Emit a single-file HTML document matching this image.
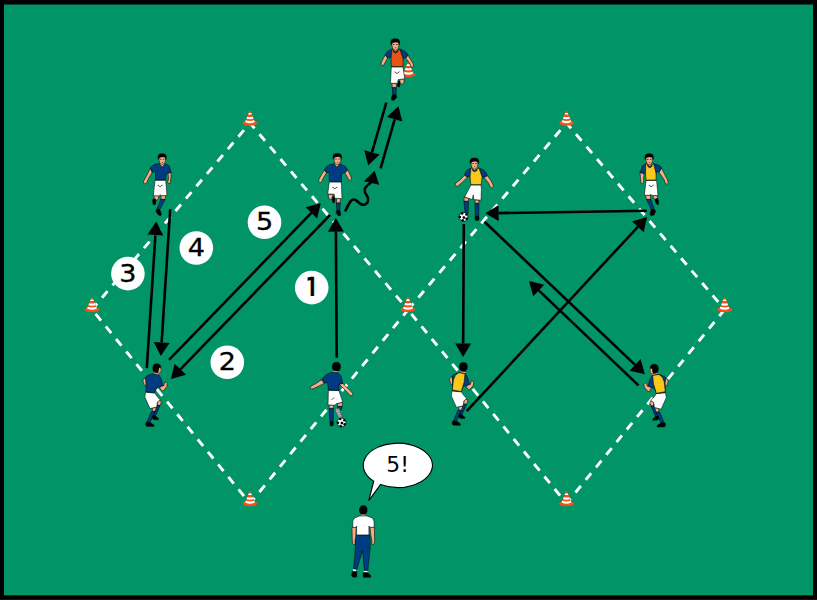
<!DOCTYPE html>
<html><head><meta charset="utf-8"><title>Drill</title>
<style>html,body{margin:0;padding:0;background:#000;overflow:hidden}svg{display:block}text{font-family:"DejaVu Sans","Liberation Sans",sans-serif}</style></head><body>
<svg width="817" height="600" viewBox="0 0 817 600">
<rect width="817" height="600" fill="#000"/>
<rect x="4" y="4.5" width="809" height="590.8" fill="#009467"/>
<rect x="0" y="599" width="817" height="1" fill="#141414"/>
<g stroke="#fff" stroke-width="2.9" fill="none">
<line x1="250" y1="123" x2="92" y2="309.5" stroke-dasharray="8.6 7.63" stroke-dashoffset="-9.40"/>
<line x1="92" y1="309.5" x2="250" y2="503.5" stroke-dasharray="8.6 7.57" stroke-dashoffset="-5.70"/>
<line x1="250" y1="503.5" x2="408" y2="309.8" stroke-dasharray="8.6 7.66" stroke-dashoffset="1.40"/>
<line x1="250" y1="123" x2="408" y2="309.8" stroke-dasharray="8.6 7.66" stroke-dashoffset="1.60"/>
<line x1="566.5" y1="123" x2="408" y2="309.8" stroke-dasharray="8.6 7.63" stroke-dashoffset="-9.40"/>
<line x1="408" y1="309.8" x2="566.5" y2="503.5" stroke-dasharray="8.6 7.57" stroke-dashoffset="-5.20"/>
<line x1="566.5" y1="503.5" x2="724.6" y2="309.5" stroke-dasharray="8.6 7.66" stroke-dashoffset="2.10"/>
<line x1="566.5" y1="123" x2="724.6" y2="309.5" stroke-dasharray="8.6 7.66" stroke-dashoffset="1.60"/>
</g>
<g id="arrows">
<line x1="336.70" y1="357.70" x2="335.88" y2="231.60" stroke="#000" stroke-width="2.6"/><polygon points="335.80,218.10 343.83,231.55 327.93,231.65" fill="#000"/>
<line x1="330.00" y1="215.00" x2="180.32" y2="369.30" stroke="#000" stroke-width="2.6"/><polygon points="170.92,378.99 174.62,363.76 186.03,374.83" fill="#000"/>
<line x1="146.80" y1="368.20" x2="155.41" y2="235.07" stroke="#000" stroke-width="2.6"/><polygon points="156.28,221.60 163.34,235.59 147.47,234.56" fill="#000"/>
<line x1="170.20" y1="209.25" x2="161.64" y2="342.43" stroke="#000" stroke-width="2.6"/><polygon points="160.77,355.90 153.71,341.92 169.57,342.94" fill="#000"/>
<line x1="169.00" y1="359.80" x2="311.38" y2="212.91" stroke="#000" stroke-width="2.6"/><polygon points="320.78,203.21 317.09,218.44 305.67,207.37" fill="#000"/>
<line x1="386.30" y1="102.70" x2="371.94" y2="152.41" stroke="#000" stroke-width="2.6"/><polygon points="368.19,165.38 364.30,150.21 379.57,154.62" fill="#000"/>
<line x1="380.60" y1="168.30" x2="394.68" y2="119.29" stroke="#000" stroke-width="2.6"/><polygon points="398.41,106.32 402.32,121.49 387.04,117.10" fill="#000"/>
<path d="M345.5,210.5 C347,208 349,203 351,201 C353,198.7 355,199 357.5,201.5 C360,204 363,206 366,204 C369,202 368.5,198 366.5,195 C364,191.5 364,189 366,187 C367.5,185 369,184 370.5,183" fill="none" stroke="#000" stroke-width="2.6" stroke-linecap="round"/>
<polygon points="374.6,170.8 363.9,181.3 379.2,184.8" fill="#000"/>
<line x1="646.80" y1="210.70" x2="498.60" y2="213.09" stroke="#000" stroke-width="2.6"/><polygon points="485.10,213.31 498.47,205.14 498.73,221.04" fill="#000"/>
<line x1="463.80" y1="224.00" x2="463.17" y2="343.50" stroke="#000" stroke-width="2.6"/><polygon points="463.10,357.00 455.22,343.46 471.12,343.54" fill="#000"/>
<line x1="466.70" y1="411.20" x2="637.89" y2="226.80" stroke="#000" stroke-width="2.6"/><polygon points="647.07,216.91 643.71,232.21 632.06,221.39" fill="#000"/>
<line x1="484.50" y1="221.80" x2="635.10" y2="364.88" stroke="#000" stroke-width="2.6"/><polygon points="644.89,374.18 629.63,370.64 640.58,359.11" fill="#000"/>
<line x1="638.50" y1="385.40" x2="538.74" y2="290.38" stroke="#000" stroke-width="2.6"/><polygon points="528.96,281.07 544.22,284.63 533.25,296.14" fill="#000"/>
</g>
<g transform="translate(250,123) scale(1.0)"><ellipse cx="0" cy="0.1" rx="7.4" ry="2.65" fill="#f4501a"/><path d="M-0.55,-12.3 L0.55,-12.3 L4.3,-2.4 L5.0,-0.9 Q0,1.8 -5.0,-0.9 L-4.3,-2.4 Z" fill="#f4501a"/><path d="M-4.2,-2.7 Q0,-1.2 4.2,-2.7 L4.9,-0.9 Q0,1.6 -4.9,-0.9 Z" fill="#fff"/><path d="M-2.75,-6.3 Q0,-5.7 2.75,-6.3 L3.5,-4.3 Q0,-3.4 -3.5,-4.3 Z" fill="#fff"/><path d="M-1.3,-10.1 L1.3,-10.1 L1.9,-8.6 Q0,-8.2 -1.9,-8.6 Z" fill="#fff"/></g>
<g transform="translate(92,309.5) scale(1.0)"><ellipse cx="0" cy="0.1" rx="7.4" ry="2.65" fill="#f4501a"/><path d="M-0.55,-12.3 L0.55,-12.3 L4.3,-2.4 L5.0,-0.9 Q0,1.8 -5.0,-0.9 L-4.3,-2.4 Z" fill="#f4501a"/><path d="M-4.2,-2.7 Q0,-1.2 4.2,-2.7 L4.9,-0.9 Q0,1.6 -4.9,-0.9 Z" fill="#fff"/><path d="M-2.75,-6.3 Q0,-5.7 2.75,-6.3 L3.5,-4.3 Q0,-3.4 -3.5,-4.3 Z" fill="#fff"/><path d="M-1.3,-10.1 L1.3,-10.1 L1.9,-8.6 Q0,-8.2 -1.9,-8.6 Z" fill="#fff"/></g>
<g transform="translate(250,503.5) scale(1.0)"><ellipse cx="0" cy="0.1" rx="7.4" ry="2.65" fill="#f4501a"/><path d="M-0.55,-12.3 L0.55,-12.3 L4.3,-2.4 L5.0,-0.9 Q0,1.8 -5.0,-0.9 L-4.3,-2.4 Z" fill="#f4501a"/><path d="M-4.2,-2.7 Q0,-1.2 4.2,-2.7 L4.9,-0.9 Q0,1.6 -4.9,-0.9 Z" fill="#fff"/><path d="M-2.75,-6.3 Q0,-5.7 2.75,-6.3 L3.5,-4.3 Q0,-3.4 -3.5,-4.3 Z" fill="#fff"/><path d="M-1.3,-10.1 L1.3,-10.1 L1.9,-8.6 Q0,-8.2 -1.9,-8.6 Z" fill="#fff"/></g>
<g transform="translate(408,309.4) scale(1.0)"><ellipse cx="0" cy="0.1" rx="7.4" ry="2.65" fill="#f4501a"/><path d="M-0.55,-12.3 L0.55,-12.3 L4.3,-2.4 L5.0,-0.9 Q0,1.8 -5.0,-0.9 L-4.3,-2.4 Z" fill="#f4501a"/><path d="M-4.2,-2.7 Q0,-1.2 4.2,-2.7 L4.9,-0.9 Q0,1.6 -4.9,-0.9 Z" fill="#fff"/><path d="M-2.75,-6.3 Q0,-5.7 2.75,-6.3 L3.5,-4.3 Q0,-3.4 -3.5,-4.3 Z" fill="#fff"/><path d="M-1.3,-10.1 L1.3,-10.1 L1.9,-8.6 Q0,-8.2 -1.9,-8.6 Z" fill="#fff"/></g>
<g transform="translate(566.5,123) scale(1.0)"><ellipse cx="0" cy="0.1" rx="7.4" ry="2.65" fill="#f4501a"/><path d="M-0.55,-12.3 L0.55,-12.3 L4.3,-2.4 L5.0,-0.9 Q0,1.8 -5.0,-0.9 L-4.3,-2.4 Z" fill="#f4501a"/><path d="M-4.2,-2.7 Q0,-1.2 4.2,-2.7 L4.9,-0.9 Q0,1.6 -4.9,-0.9 Z" fill="#fff"/><path d="M-2.75,-6.3 Q0,-5.7 2.75,-6.3 L3.5,-4.3 Q0,-3.4 -3.5,-4.3 Z" fill="#fff"/><path d="M-1.3,-10.1 L1.3,-10.1 L1.9,-8.6 Q0,-8.2 -1.9,-8.6 Z" fill="#fff"/></g>
<g transform="translate(724.6,309.5) scale(1.0)"><ellipse cx="0" cy="0.1" rx="7.4" ry="2.65" fill="#f4501a"/><path d="M-0.55,-12.3 L0.55,-12.3 L4.3,-2.4 L5.0,-0.9 Q0,1.8 -5.0,-0.9 L-4.3,-2.4 Z" fill="#f4501a"/><path d="M-4.2,-2.7 Q0,-1.2 4.2,-2.7 L4.9,-0.9 Q0,1.6 -4.9,-0.9 Z" fill="#fff"/><path d="M-2.75,-6.3 Q0,-5.7 2.75,-6.3 L3.5,-4.3 Q0,-3.4 -3.5,-4.3 Z" fill="#fff"/><path d="M-1.3,-10.1 L1.3,-10.1 L1.9,-8.6 Q0,-8.2 -1.9,-8.6 Z" fill="#fff"/></g>
<g transform="translate(566.5,503.5) scale(1.0)"><ellipse cx="0" cy="0.1" rx="7.4" ry="2.65" fill="#f4501a"/><path d="M-0.55,-12.3 L0.55,-12.3 L4.3,-2.4 L5.0,-0.9 Q0,1.8 -5.0,-0.9 L-4.3,-2.4 Z" fill="#f4501a"/><path d="M-4.2,-2.7 Q0,-1.2 4.2,-2.7 L4.9,-0.9 Q0,1.6 -4.9,-0.9 Z" fill="#fff"/><path d="M-2.75,-6.3 Q0,-5.7 2.75,-6.3 L3.5,-4.3 Q0,-3.4 -3.5,-4.3 Z" fill="#fff"/><path d="M-1.3,-10.1 L1.3,-10.1 L1.9,-8.6 Q0,-8.2 -1.9,-8.6 Z" fill="#fff"/></g>
<circle cx="311.7" cy="287.6" r="16.8" fill="#fff"/>
<clipPath id="c1"><rect x="307.60" y="271.6" width="20" height="24.40"/></clipPath>
<g clip-path="url(#c1)"><text x="302.45" y="299.10" font-size="29.5" fill="#000" stroke="#000" stroke-width="0.4">1</text></g>
<circle cx="227.3" cy="362.3" r="16.8" fill="#fff"/>
<text transform="translate(227.3,370.20) scale(1.06,1)" font-size="25.5" text-anchor="middle" fill="#000" stroke="#000" stroke-width="0.35">2</text>
<circle cx="127.9" cy="273.6" r="16.8" fill="#fff"/>
<text transform="translate(127.9,281.50) scale(1.06,1)" font-size="25.5" text-anchor="middle" fill="#000" stroke="#000" stroke-width="0.35">3</text>
<circle cx="196.3" cy="248" r="16.8" fill="#fff"/>
<text transform="translate(196.3,255.90) scale(1.06,1)" font-size="25.5" text-anchor="middle" fill="#000" stroke="#000" stroke-width="0.35">4</text>
<circle cx="264.5" cy="222.3" r="16.8" fill="#fff"/>
<text transform="translate(264.5,230.20) scale(1.06,1)" font-size="25.5" text-anchor="middle" fill="#000" stroke="#000" stroke-width="0.35">5</text>
<path d="M373.75,481.2 A34.6,22.1 0 1 1 380.6,484.5 L368.75,500.6 Z" fill="#fff" stroke="#000" stroke-width="1.1" stroke-linejoin="miter"/>
<text x="397.6" y="471.8" font-size="21.8" text-anchor="middle" fill="#000">5!</text>
<g transform="translate(408.3,74.4) scale(1.0)"><ellipse cx="0" cy="0.1" rx="7.4" ry="2.65" fill="#f4501a"/><path d="M-0.55,-12.3 L0.55,-12.3 L4.3,-2.4 L5.0,-0.9 Q0,1.8 -5.0,-0.9 L-4.3,-2.4 Z" fill="#f4501a"/><path d="M-4.2,-2.7 Q0,-1.2 4.2,-2.7 L4.9,-0.9 Q0,1.6 -4.9,-0.9 Z" fill="#fff"/><path d="M-2.75,-6.3 Q0,-5.7 2.75,-6.3 L3.5,-4.3 Q0,-3.4 -3.5,-4.3 Z" fill="#fff"/><path d="M-1.3,-10.1 L1.3,-10.1 L1.9,-8.6 Q0,-8.2 -1.9,-8.6 Z" fill="#fff"/></g>
<polygon points="154.30,195.60 158.70,195.60 158.50,199.00 156.00,200.50 154.00,199.50" fill="#f6ad86" stroke="#000" stroke-width="0.55" stroke-linejoin="round"/><polygon points="152.80,199.50 155.50,198.70 156.00,201.00 155.20,204.70 153.30,204.50 152.70,202.00" fill="#000" stroke="#000" stroke-width="0.55" stroke-linejoin="round"/><polygon points="161.30,195.60 165.70,195.60 165.00,199.50 160.80,199.30" fill="#f6ad86" stroke="#000" stroke-width="0.55" stroke-linejoin="round"/><polygon points="160.70,199.20 164.90,199.60 159.80,209.60 157.00,209.30" fill="#003c82" stroke="#000" stroke-width="0.55" stroke-linejoin="round"/><polygon points="156.60,209.00 159.80,209.50 161.30,214.00 160.80,215.70 158.50,215.00 156.00,211.50" fill="#000" stroke="#000" stroke-width="0.55" stroke-linejoin="round"/><polygon points="155.00,180.30 165.70,180.30 167.00,195.50 160.80,195.70 160.20,194.50 159.60,195.90 153.30,195.70" fill="#fff" stroke="#000" stroke-width="0.55" stroke-linejoin="round"/><path d="M157.60,185.10 L159.40,186.10 L160.00,186.90 L160.70,186.10 L162.50,185.00" fill="none" stroke="#222" stroke-width="0.8"/><polygon points="150.30,168.30 147.00,175.00 143.60,181.00 143.60,183.00 145.00,184.00 146.60,183.00 148.50,178.50 152.20,172.20" fill="#f6ad86" stroke="#000" stroke-width="0.55" stroke-linejoin="round"/><polygon points="168.00,173.00 171.20,172.70 170.80,179.00 170.30,183.30 168.50,183.60 167.60,182.00 168.60,179.00" fill="#f6ad86" stroke="#000" stroke-width="0.55" stroke-linejoin="round"/><polygon points="160.25,162.30 164.05,162.30 164.75,165.80 163.65,168.00 160.65,168.00 159.55,165.80" fill="#f6ad86"/><polygon points="159.15,157.40 159.15,160.40 159.85,162.60 161.25,164.10 162.35,164.40 163.45,164.10 164.75,162.60 165.45,160.40 165.55,157.40 162.35,156.20" fill="#f6ad86" stroke="#000" stroke-width="0.5" stroke-linejoin="round"/><polygon points="158.25,159.40 157.95,156.80 158.65,154.70 160.65,153.80 163.65,153.70 165.75,154.70 166.35,156.80 166.05,159.40 165.45,157.70 164.35,156.80 161.65,156.90 159.85,157.20 159.05,158.00" fill="#000" stroke="#000" stroke-width="0.4" stroke-linejoin="round"/><rect x="160.25" y="158.80" width="1.3" height="0.8" fill="#000"/><rect x="163.15" y="158.80" width="1.3" height="0.8" fill="#000"/><rect x="161.95" y="161.85" width="1.2" height="0.7" fill="#3a1a10"/><polygon points="159.50,163.40 154.60,164.60 151.80,166.00 150.50,167.50 152.00,172.20 155.50,171.60 155.50,179.90 165.70,179.90 166.20,173.30 171.20,172.40 169.20,166.30 168.00,164.90 165.10,163.70 162.00,167.20" fill="#003c82" stroke="#000" stroke-width="0.55" stroke-linejoin="round"/>
<polygon points="328.30,194.30 332.70,194.30 332.70,198.50 330.50,199.50 328.50,198.00" fill="#f6ad86" stroke="#000" stroke-width="0.55" stroke-linejoin="round"/><polygon points="332.30,197.00 334.50,196.70 335.00,200.00 334.30,202.70 332.80,202.50 332.30,200.00" fill="#000" stroke="#000" stroke-width="0.55" stroke-linejoin="round"/><polygon points="336.70,198.50 340.30,198.50 340.20,203.00 336.50,203.00" fill="#f6ad86" stroke="#000" stroke-width="0.55" stroke-linejoin="round"/><polygon points="336.50,203.00 340.20,203.00 339.80,210.70 336.80,210.70" fill="#003c82" stroke="#000" stroke-width="0.55" stroke-linejoin="round"/><polygon points="336.60,210.70 339.90,210.70 340.70,214.50 340.30,215.70 338.00,215.50 336.00,212.50" fill="#000" stroke="#000" stroke-width="0.55" stroke-linejoin="round"/><polygon points="329.30,182.00 341.30,182.00 342.00,198.70 334.70,198.20 334.30,194.20 327.70,194.00" fill="#fff" stroke="#000" stroke-width="0.55" stroke-linejoin="round"/><path d="M332.40,187.10 L334.20,188.10 L334.80,188.90 L335.50,188.10 L337.30,187.00" fill="none" stroke="#222" stroke-width="0.8"/><polygon points="324.40,170.00 321.00,175.50 318.90,179.50 318.80,181.80 320.00,182.80 321.50,182.00 323.50,177.50 326.60,172.80" fill="#f6ad86" stroke="#000" stroke-width="0.55" stroke-linejoin="round"/><polygon points="347.40,169.90 349.50,173.50 351.20,177.50 351.20,179.50 350.00,180.40 348.50,179.80 347.50,177.00 344.80,173.00" fill="#f6ad86" stroke="#000" stroke-width="0.55" stroke-linejoin="round"/><polygon points="335.33,162.32 339.27,162.32 340.00,165.96 338.86,168.24 335.74,168.24 334.60,165.96" fill="#f6ad86"/><polygon points="334.19,157.24 334.19,160.35 334.91,162.64 336.37,164.19 337.51,164.50 338.65,164.19 340.00,162.64 340.73,160.35 340.83,157.24 337.51,155.99" fill="#f6ad86" stroke="#000" stroke-width="0.5" stroke-linejoin="round"/><polygon points="333.25,159.31 332.94,156.61 333.67,154.43 335.74,153.50 338.86,153.40 341.04,154.43 341.66,156.61 341.35,159.31 340.73,157.55 339.58,156.61 336.78,156.72 334.91,157.03 334.08,157.86" fill="#000" stroke="#000" stroke-width="0.4" stroke-linejoin="round"/><rect x="335.35" y="158.71" width="1.3" height="0.8" fill="#000"/><rect x="338.36" y="158.71" width="1.3" height="0.8" fill="#000"/><rect x="337.12" y="161.87" width="1.2" height="0.7" fill="#3a1a10"/><polygon points="334.20,163.70 329.00,164.90 326.00,167.20 324.30,169.80 326.40,172.70 329.30,172.40 329.30,181.60 341.50,181.90 341.50,173.30 344.70,173.00 347.40,169.80 346.00,167.30 343.60,165.50 339.80,163.70 336.90,167.20" fill="#003c82" stroke="#000" stroke-width="0.55" stroke-linejoin="round"/>
<polygon points="392.00,83.30 396.30,83.30 396.30,87.70 392.20,87.70" fill="#f6ad86" stroke="#000" stroke-width="0.55" stroke-linejoin="round"/><polygon points="392.20,87.70 396.30,87.70 396.00,95.00 392.80,95.00" fill="#003c82" stroke="#000" stroke-width="0.55" stroke-linejoin="round"/><polygon points="392.50,95.00 396.20,95.00 396.70,97.50 394.00,100.30 391.50,100.00 391.30,98.00" fill="#000" stroke="#000" stroke-width="0.55" stroke-linejoin="round"/><polygon points="399.70,79.40 404.00,78.80 404.00,83.00 402.00,84.20 400.00,83.50" fill="#f6ad86" stroke="#000" stroke-width="0.55" stroke-linejoin="round"/><polygon points="397.50,81.50 399.80,81.30 400.00,84.00 399.30,87.00 397.60,86.50 397.30,83.50" fill="#000" stroke="#000" stroke-width="0.55" stroke-linejoin="round"/><polygon points="391.30,67.00 403.00,67.00 404.70,78.70 398.00,79.70 397.70,83.30 390.50,83.30" fill="#fff" stroke="#000" stroke-width="0.55" stroke-linejoin="round"/><path d="M394.60,71.80 L396.40,72.80 L397.00,73.60 L397.70,72.80 L399.50,71.70" fill="none" stroke="#222" stroke-width="0.8"/><polygon points="385.20,55.00 382.50,60.00 381.10,63.00 381.20,64.80 382.50,65.50 384.00,64.80 385.50,61.50 387.70,58.00" fill="#f6ad86" stroke="#000" stroke-width="0.55" stroke-linejoin="round"/><polygon points="408.00,55.20 410.50,59.50 413.00,63.50 413.60,66.00 412.80,67.40 411.30,67.00 409.50,63.00 405.70,58.00" fill="#f6ad86" stroke="#000" stroke-width="0.55" stroke-linejoin="round"/><polygon points="393.21,47.95 397.29,47.95 398.05,51.71 396.86,54.08 393.64,54.08 392.45,51.71" fill="#f6ad86"/><polygon points="392.02,42.67 392.02,45.90 392.77,48.27 394.28,49.88 395.47,50.21 396.65,49.88 398.05,48.27 398.80,45.90 398.91,42.67 395.47,41.38" fill="#f6ad86" stroke="#000" stroke-width="0.5" stroke-linejoin="round"/><polygon points="391.05,44.83 390.73,42.03 391.48,39.77 393.64,38.80 396.86,38.69 399.12,39.77 399.77,42.03 399.45,44.83 398.80,43.00 397.62,42.03 394.71,42.14 392.77,42.46 391.91,43.32" fill="#000" stroke="#000" stroke-width="0.4" stroke-linejoin="round"/><rect x="393.25" y="44.21" width="1.3" height="0.8" fill="#000"/><rect x="396.37" y="44.21" width="1.3" height="0.8" fill="#000"/><rect x="395.08" y="47.49" width="1.2" height="0.7" fill="#3a1a10"/><polygon points="392.30,49.10 388.40,50.80 386.30,52.60 385.20,54.80 387.60,58.00 391.50,57.20 391.50,60.00 403.00,60.00 403.00,57.50 405.60,58.00 408.00,55.10 406.50,52.80 404.20,50.80 399.60,48.90 395.40,51.80" fill="#003c82" stroke="#000" stroke-width="0.55" stroke-linejoin="round"/><polygon points="391.90,49.00 391.00,58.40 391.30,66.60 403.00,66.60 403.00,58.40 399.80,49.00 398.40,49.60 397.50,52.00 395.40,53.00 393.60,52.00 393.20,49.60" fill="#e95414" stroke="#000" stroke-width="0.55" stroke-linejoin="round"/>
<polygon points="464.20,197.00 468.60,198.50 468.40,201.30 464.00,201.30" fill="#f6ad86" stroke="#000" stroke-width="0.55" stroke-linejoin="round"/><polygon points="463.90,201.30 468.40,201.30 468.10,213.50 465.20,213.50" fill="#003c82" stroke="#000" stroke-width="0.55" stroke-linejoin="round"/><polygon points="475.10,199.80 478.90,200.00 478.90,203.30 475.00,203.30" fill="#f6ad86" stroke="#000" stroke-width="0.55" stroke-linejoin="round"/><polygon points="475.00,203.30 478.90,203.30 478.70,216.30 475.30,216.30" fill="#003c82" stroke="#000" stroke-width="0.55" stroke-linejoin="round"/><polygon points="475.20,216.30 478.80,216.30 479.00,219.50 478.00,220.50 475.80,220.50 475.00,219.00" fill="#000" stroke="#000" stroke-width="0.55" stroke-linejoin="round"/><polygon points="470.90,185.10 481.00,185.10 481.40,189.00 481.00,200.20 473.70,199.60 473.30,194.80 472.30,199.50 464.60,197.00" fill="#fff" stroke="#000" stroke-width="0.55" stroke-linejoin="round"/><polygon points="464.60,175.20 460.00,180.00 455.80,183.00 455.20,184.80 456.20,186.20 458.00,186.00 462.00,182.50 467.50,177.00" fill="#f6ad86" stroke="#000" stroke-width="0.55" stroke-linejoin="round"/><polygon points="487.30,175.60 490.50,180.00 493.00,184.50 493.30,187.00 492.00,188.00 490.50,187.30 488.50,183.00 484.00,177.50" fill="#f6ad86" stroke="#000" stroke-width="0.55" stroke-linejoin="round"/><polygon points="472.36,166.90 476.34,166.90 477.07,170.57 475.92,172.88 472.78,172.88 471.63,170.57" fill="#f6ad86"/><polygon points="471.21,161.77 471.21,164.91 471.94,167.22 473.41,168.79 474.56,169.10 475.71,168.79 477.07,167.22 477.81,164.91 477.91,161.77 474.56,160.51" fill="#f6ad86" stroke="#000" stroke-width="0.5" stroke-linejoin="round"/><polygon points="470.26,163.87 469.95,161.14 470.68,158.94 472.78,158.00 475.92,157.90 478.12,158.94 478.75,161.14 478.44,163.87 477.81,162.09 476.65,161.14 473.83,161.25 471.94,161.56 471.10,162.40" fill="#000" stroke="#000" stroke-width="0.4" stroke-linejoin="round"/><rect x="472.39" y="163.26" width="1.3" height="0.8" fill="#000"/><rect x="475.43" y="163.26" width="1.3" height="0.8" fill="#000"/><rect x="474.17" y="166.45" width="1.2" height="0.7" fill="#3a1a10"/><polygon points="471.30,168.00 467.20,169.90 465.50,172.20 464.60,175.20 467.50,176.90 470.30,176.00 470.30,179.00 482.00,179.00 482.00,176.50 483.80,177.50 487.30,175.50 486.20,172.80 483.50,169.90 478.70,167.90 474.50,170.60" fill="#003c82" stroke="#000" stroke-width="0.55" stroke-linejoin="round"/><polygon points="471.00,167.90 470.10,176.40 470.70,184.60 481.20,184.60 482.10,176.90 478.90,167.90 477.50,168.40 476.70,170.80 474.50,171.80 472.70,170.80 472.30,168.40" fill="#fac81a" stroke="#000" stroke-width="0.55" stroke-linejoin="round"/><circle cx="463.55" cy="216.85" r="4.45" fill="#fff" stroke="#000" stroke-width="0.8"/><polygon points="463.90,215.90 465.37,216.97 464.81,218.70 462.99,218.70 462.43,216.97" fill="#000"/><circle cx="466.32" cy="214.55" r="1.25" fill="#000"/><circle cx="466.59" cy="218.77" r="1.25" fill="#000"/><circle cx="462.66" cy="220.34" r="1.25" fill="#000"/><circle cx="459.96" cy="217.08" r="1.25" fill="#000"/><circle cx="462.22" cy="213.50" r="1.25" fill="#000"/>
<polygon points="653.10,195.40 657.30,195.40 657.50,198.50 655.50,199.60 653.50,198.50" fill="#f6ad86" stroke="#000" stroke-width="0.55" stroke-linejoin="round"/><polygon points="655.50,198.90 657.60,198.50 658.70,201.50 658.50,204.60 656.80,204.30 655.30,201.50" fill="#000" stroke="#000" stroke-width="0.55" stroke-linejoin="round"/><polygon points="645.40,195.20 650.30,195.20 650.60,199.40 646.50,199.40" fill="#f6ad86" stroke="#000" stroke-width="0.55" stroke-linejoin="round"/><polygon points="646.60,199.40 650.80,199.40 654.30,209.50 651.50,210.00" fill="#003c82" stroke="#000" stroke-width="0.55" stroke-linejoin="round"/><polygon points="651.20,209.50 654.30,209.00 655.50,211.50 654.00,215.00 651.00,215.80 649.90,214.50" fill="#000" stroke="#000" stroke-width="0.55" stroke-linejoin="round"/><polygon points="646.10,180.50 656.60,180.50 658.00,195.60 651.30,195.40 650.80,194.20 650.30,195.30 644.30,195.20" fill="#fff" stroke="#000" stroke-width="0.55" stroke-linejoin="round"/><path d="M648.80,185.10 L650.60,186.10 L651.20,186.90 L651.90,186.10 L653.70,185.00" fill="none" stroke="#222" stroke-width="0.8"/><polygon points="640.00,172.50 640.40,177.00 640.80,181.00 641.00,183.00 642.30,183.70 643.60,183.00 643.50,179.50 644.00,173.50" fill="#f6ad86" stroke="#000" stroke-width="0.55" stroke-linejoin="round"/><polygon points="661.50,168.30 664.50,174.00 667.50,180.00 668.30,183.00 667.30,184.20 665.50,183.60 664.00,179.50 659.00,172.20" fill="#f6ad86" stroke="#000" stroke-width="0.55" stroke-linejoin="round"/><polygon points="647.18,162.62 651.12,162.62 651.85,166.26 650.71,168.54 647.59,168.54 646.45,166.26" fill="#f6ad86"/><polygon points="646.04,157.54 646.04,160.65 646.76,162.94 648.22,164.49 649.36,164.80 650.50,164.49 651.85,162.94 652.58,160.65 652.68,157.54 649.36,156.29" fill="#f6ad86" stroke="#000" stroke-width="0.5" stroke-linejoin="round"/><polygon points="645.10,159.61 644.79,156.91 645.52,154.73 647.59,153.80 650.71,153.70 652.89,154.73 653.51,156.91 653.20,159.61 652.58,157.85 651.43,156.91 648.63,157.02 646.76,157.33 645.93,158.16" fill="#000" stroke="#000" stroke-width="0.4" stroke-linejoin="round"/><rect x="647.20" y="159.01" width="1.3" height="0.8" fill="#000"/><rect x="650.21" y="159.01" width="1.3" height="0.8" fill="#000"/><rect x="648.97" y="162.17" width="1.2" height="0.7" fill="#3a1a10"/><polygon points="646.00,163.80 642.50,165.80 639.90,172.50 644.00,173.40 645.60,172.50 645.60,175.00 656.00,175.00 656.00,171.50 658.90,172.20 661.50,168.10 660.30,166.30 658.00,164.90 653.40,163.60 649.80,166.50" fill="#003c82" stroke="#000" stroke-width="0.55" stroke-linejoin="round"/><polygon points="645.80,163.70 645.50,173.40 646.00,180.10 656.00,179.90 656.00,173.40 653.60,163.70 652.30,164.20 651.60,166.80 649.80,167.80 648.00,166.80 647.20,164.20" fill="#fac81a" stroke="#000" stroke-width="0.55" stroke-linejoin="round"/>
<polygon points="152.10,408.20 156.70,407.00 156.70,411.50 152.80,411.80" fill="#f6ad86" stroke="#000" stroke-width="0.55" stroke-linejoin="round"/><polygon points="151.50,411.50 155.30,411.50 150.00,422.50 146.90,422.20" fill="#003c82" stroke="#000" stroke-width="0.55" stroke-linejoin="round"/><polygon points="146.50,422.00 150.20,422.50 153.90,425.00 153.70,426.50 146.50,426.30 145.50,424.00" fill="#000" stroke="#000" stroke-width="0.55" stroke-linejoin="round"/><polygon points="157.40,401.30 160.50,400.30 161.20,402.50 160.00,405.50 157.40,405.50" fill="#f6ad86" stroke="#000" stroke-width="0.55" stroke-linejoin="round"/><polygon points="157.20,405.30 160.00,405.50 155.30,416.20 153.20,415.80" fill="#003c82" stroke="#000" stroke-width="0.55" stroke-linejoin="round"/><polygon points="153.00,415.50 155.50,416.00 158.40,418.50 158.20,419.80 153.50,419.50 152.10,417.50" fill="#000" stroke="#000" stroke-width="0.55" stroke-linejoin="round"/><polygon points="145.50,392.20 155.30,393.20 156.00,395.00 160.20,399.90 157.40,402.00 156.70,406.90 150.00,408.60 144.80,397.10" fill="#fff" stroke="#000" stroke-width="0.55" stroke-linejoin="round"/><polygon points="145.80,377.50 142.90,379.80 143.30,382.50 144.50,385.50 145.80,386.30 146.30,383.30" fill="#f6ad86" stroke="#000" stroke-width="0.55" stroke-linejoin="round"/><polygon points="154.50,372.00 158.80,373.30 158.50,375.40 153.50,374.20" fill="#f6ad86"/><polygon points="153.10,373.70 149.30,374.80 146.60,376.10 145.60,377.60 146.10,383.30 145.80,391.80 154.60,392.70 156.90,387.40 159.50,387.10 163.00,385.70 161.20,379.00 158.90,374.90" fill="#003c82" stroke="#000" stroke-width="0.55" stroke-linejoin="round"/><polygon points="159.60,387.20 161.20,390.20 162.60,391.00 164.50,389.50 166.80,386.50 167.20,383.50 166.00,382.20 164.40,382.80 164.00,385.50 163.00,385.80" fill="#f6ad86" stroke="#000" stroke-width="0.55" stroke-linejoin="round"/><polygon points="158.20,367.30 160.70,368.00 161.00,370.20 160.60,371.80 159.80,373.10 157.50,372.90" fill="#f6ad86" stroke="#000" stroke-width="0.4" stroke-linejoin="round"/><polygon points="152.60,368.00 153.40,365.00 155.50,363.80 158.30,363.80 160.30,365.00 160.90,367.60 158.80,367.60 158.60,370.50 157.80,372.70 155.00,372.60 153.20,371.00" fill="#000" stroke="#000" stroke-width="0.4" stroke-linejoin="round"/>
<polygon points="329.10,405.00 333.70,405.00 333.50,408.40 329.10,408.40" fill="#f6ad86" stroke="#000" stroke-width="0.55" stroke-linejoin="round"/><polygon points="329.10,408.40 333.40,408.40 333.20,422.00 330.00,422.00" fill="#003c82" stroke="#000" stroke-width="0.55" stroke-linejoin="round"/><polygon points="330.10,422.00 333.20,422.00 333.40,425.00 332.50,426.00 330.50,425.90 330.00,424.50" fill="#000" stroke="#000" stroke-width="0.55" stroke-linejoin="round"/><polygon points="337.50,403.40 342.40,402.30 342.30,406.50 337.70,406.60" fill="#f6ad86" stroke="#000" stroke-width="0.55" stroke-linejoin="round"/><polygon points="337.50,406.40 342.10,406.20 341.50,409.60 337.50,410.00" fill="#003c82" stroke="#000" stroke-width="0.55" stroke-linejoin="round"/><polygon points="335.60,408.60 339.10,408.30 342.40,417.30 341.30,418.70 339.00,418.20 335.60,411.20" fill="#b5b5b5" stroke="#444" stroke-width="0.6" stroke-linejoin="round"/><path d="M336.6,410.3 L338.9,409.8 M337.5,412.6 L340,412 M338.6,415 L341,414.3 M339.6,417 L341.8,416.3" stroke="#555" stroke-width="0.6" fill="none"/><polygon points="328.40,390.50 338.90,390.50 342.80,402.10 336.10,403.80 335.10,405.20 328.00,404.90" fill="#fff" stroke="#000" stroke-width="0.55" stroke-linejoin="round"/><path d="M331.5,399.5 L333.5,398.6 L334.6,397.4" fill="none" stroke="#333" stroke-width="0.7"/><polygon points="321.70,379.70 316.00,383.50 310.80,386.30 310.20,387.80 311.30,389.00 313.50,388.60 319.00,386.00 324.40,383.20" fill="#f6ad86" stroke="#000" stroke-width="0.55" stroke-linejoin="round"/><polygon points="342.80,383.40 347.00,387.50 351.50,392.00 353.00,394.00 352.60,395.50 350.50,395.70 348.50,393.50 344.00,389.00 339.20,384.20" fill="#f6ad86" stroke="#000" stroke-width="0.55" stroke-linejoin="round"/><polygon points="333.50,370.30 337.40,370.30 337.60,373.00 333.00,373.00" fill="#f6ad86"/><polygon points="333.00,372.20 328.90,373.20 325.10,375.70 321.60,379.50 324.50,383.30 327.60,382.40 328.30,389.80 339.00,390.40 339.00,384.00 342.80,383.30 340.90,375.70 337.40,372.60" fill="#003c82" stroke="#000" stroke-width="0.55" stroke-linejoin="round"/><polygon points="332.30,368.50 332.20,365.50 333.50,363.00 336.00,362.10 338.80,362.60 340.40,364.80 340.50,368.00 339.30,370.50 336.50,371.00 333.60,370.60" fill="#000" stroke="#000" stroke-width="0.4" stroke-linejoin="round"/><circle cx="341.55" cy="422.45" r="4.45" fill="#fff" stroke="#000" stroke-width="0.8"/><polygon points="341.90,421.50 343.37,422.57 342.81,424.30 340.99,424.30 340.43,422.57" fill="#000"/><circle cx="344.32" cy="420.15" r="1.25" fill="#000"/><circle cx="344.59" cy="424.37" r="1.25" fill="#000"/><circle cx="340.66" cy="425.94" r="1.25" fill="#000"/><circle cx="337.96" cy="422.68" r="1.25" fill="#000"/><circle cx="340.22" cy="419.10" r="1.25" fill="#000"/>
<polygon points="458.60,407.00 463.20,405.80 463.20,410.30 459.30,410.60" fill="#f6ad86" stroke="#000" stroke-width="0.55" stroke-linejoin="round"/><polygon points="458.00,410.30 461.80,410.30 456.50,421.30 453.40,421.00" fill="#003c82" stroke="#000" stroke-width="0.55" stroke-linejoin="round"/><polygon points="453.00,420.80 456.70,421.30 460.40,423.80 460.20,425.30 453.00,425.10 452.00,422.80" fill="#000" stroke="#000" stroke-width="0.55" stroke-linejoin="round"/><polygon points="463.90,400.10 467.00,399.10 467.70,401.30 466.50,404.30 463.90,404.30" fill="#f6ad86" stroke="#000" stroke-width="0.55" stroke-linejoin="round"/><polygon points="463.70,404.10 466.50,404.30 461.80,415.00 459.70,414.60" fill="#003c82" stroke="#000" stroke-width="0.55" stroke-linejoin="round"/><polygon points="459.50,414.30 462.00,414.80 464.90,417.30 464.70,418.60 460.00,418.30 458.60,416.30" fill="#000" stroke="#000" stroke-width="0.55" stroke-linejoin="round"/><polygon points="452.00,391.00 461.80,392.00 462.50,393.80 466.70,398.70 463.90,400.80 463.20,405.70 456.50,407.40 451.30,395.90" fill="#fff" stroke="#000" stroke-width="0.55" stroke-linejoin="round"/><polygon points="452.30,376.30 449.40,378.60 449.80,381.30 451.00,384.30 452.30,385.10 452.80,382.10" fill="#f6ad86" stroke="#000" stroke-width="0.55" stroke-linejoin="round"/><polygon points="461.00,370.80 465.30,372.10 465.00,374.20 460.00,373.00" fill="#f6ad86"/><polygon points="459.60,372.50 455.80,373.60 453.10,374.90 452.10,376.40 452.60,382.10 452.30,390.60 461.10,391.50 463.40,386.20 466.00,385.90 469.50,384.50 467.70,377.80 465.40,373.70" fill="#003c82" stroke="#000" stroke-width="0.55" stroke-linejoin="round"/><polygon points="458.80,372.70 455.40,375.30 453.40,380.00 452.30,389.90 461.20,391.60 464.10,382.20 465.00,373.70" fill="#fac81a" stroke="#000" stroke-width="0.55" stroke-linejoin="round"/><polygon points="466.10,386.00 467.70,389.00 469.10,389.80 471.00,388.30 473.30,385.30 473.70,382.30 472.50,381.00 470.90,381.60 470.50,384.30 469.50,384.60" fill="#f6ad86" stroke="#000" stroke-width="0.55" stroke-linejoin="round"/><polygon points="459.10,366.80 459.90,363.80 462.00,362.60 464.80,362.60 466.80,363.80 467.50,366.60 467.00,369.30 465.30,371.30 462.00,371.60 459.70,369.80" fill="#000" stroke="#000" stroke-width="0.4" stroke-linejoin="round"/>
<polygon points="659.00,408.75 654.40,407.55 654.40,412.05 658.30,412.35" fill="#f6ad86" stroke="#000" stroke-width="0.55" stroke-linejoin="round"/><polygon points="659.60,412.05 655.80,412.05 661.10,423.05 664.20,422.75" fill="#003c82" stroke="#000" stroke-width="0.55" stroke-linejoin="round"/><polygon points="664.60,422.55 660.90,423.05 657.20,425.55 657.40,427.05 664.60,426.85 665.60,424.55" fill="#000" stroke="#000" stroke-width="0.55" stroke-linejoin="round"/><polygon points="653.70,401.85 650.60,400.85 649.90,403.05 651.10,406.05 653.70,406.05" fill="#f6ad86" stroke="#000" stroke-width="0.55" stroke-linejoin="round"/><polygon points="653.90,405.85 651.10,406.05 655.80,416.75 657.90,416.35" fill="#003c82" stroke="#000" stroke-width="0.55" stroke-linejoin="round"/><polygon points="658.10,416.05 655.60,416.55 652.70,419.05 652.90,420.35 657.60,420.05 659.00,418.05" fill="#000" stroke="#000" stroke-width="0.55" stroke-linejoin="round"/><polygon points="665.60,392.75 655.80,393.75 655.10,395.55 650.90,400.45 653.70,402.55 654.40,407.45 661.10,409.15 666.30,397.65" fill="#fff" stroke="#000" stroke-width="0.55" stroke-linejoin="round"/><polygon points="665.30,378.05 668.20,380.35 667.80,383.05 666.60,386.05 665.30,386.85 664.80,383.85" fill="#f6ad86" stroke="#000" stroke-width="0.55" stroke-linejoin="round"/><polygon points="656.60,372.55 652.30,373.85 652.60,375.95 657.60,374.75" fill="#f6ad86"/><polygon points="658.00,374.25 661.80,375.35 664.50,376.65 665.50,378.15 665.00,383.85 665.30,392.35 656.50,393.25 654.20,387.95 651.60,387.65 648.10,386.25 649.90,379.55 652.20,375.45" fill="#003c82" stroke="#000" stroke-width="0.55" stroke-linejoin="round"/><polygon points="658.80,374.45 662.20,377.05 664.20,381.75 665.30,391.65 656.40,393.35 653.50,383.95 652.60,375.45" fill="#fac81a" stroke="#000" stroke-width="0.55" stroke-linejoin="round"/><polygon points="651.50,387.75 649.90,390.75 648.50,391.55 646.60,390.05 644.30,387.05 643.90,384.05 645.10,382.75 646.70,383.35 647.10,386.05 648.10,386.35" fill="#f6ad86" stroke="#000" stroke-width="0.55" stroke-linejoin="round"/><polygon points="652.90,367.85 650.40,368.55 650.10,370.75 650.50,372.35 651.30,373.65 653.60,373.45" fill="#f6ad86" stroke="#000" stroke-width="0.4" stroke-linejoin="round"/><polygon points="658.50,368.55 657.70,365.55 655.60,364.35 652.80,364.35 650.80,365.55 650.20,368.15 652.30,368.15 652.50,371.05 653.30,373.25 656.10,373.15 657.90,371.55" fill="#000" stroke="#000" stroke-width="0.4" stroke-linejoin="round"/>
<polygon points="352.90,569.00 356.20,569.00 356.20,572.00 352.90,572.00" fill="#fff"/><polygon points="363.80,570.50 367.60,570.50 367.60,573.00 363.80,573.00" fill="#fff"/><polygon points="352.60,571.30 356.60,571.50 356.90,576.80 353.50,577.30 351.70,576.00 351.90,573.00" fill="#000" stroke="#000" stroke-width="0.55" stroke-linejoin="round"/><polygon points="363.30,572.60 367.30,572.50 370.80,575.60 370.60,577.20 363.50,577.30 363.00,575.00" fill="#000" stroke="#000" stroke-width="0.55" stroke-linejoin="round"/><polygon points="355.50,534.90 369.90,534.90 370.30,545.10 369.30,556.00 367.80,570.60 364.40,570.60 363.60,562.00 363.00,554.70 362.40,550.60 360.30,558.00 356.90,569.30 353.40,569.00 354.70,557.00 355.50,545.10" fill="#003c82" stroke="#000" stroke-width="0.55" stroke-linejoin="round"/><polygon points="352.00,527.40 356.00,527.40 355.80,536.00 355.00,541.00 355.20,544.00 354.00,544.60 352.50,543.50 352.30,540.00" fill="#f6ad86" stroke="#000" stroke-width="0.55" stroke-linejoin="round"/><polygon points="370.00,527.40 374.40,527.20 374.60,540.00 374.40,543.50 373.00,544.60 371.80,544.00 372.00,541.00 370.80,535.00" fill="#f6ad86" stroke="#000" stroke-width="0.55" stroke-linejoin="round"/><polygon points="361.60,513.20 364.90,513.20 365.20,516.50 361.30,516.50" fill="#f6ad86"/><polygon points="359.50,516.00 367.00,516.00 372.50,518.00 374.00,521.00 374.20,527.20 370.00,527.40 368.90,526.00 368.90,534.90 356.60,534.90 356.60,526.00 355.80,527.40 352.80,527.40 352.80,521.00 354.50,518.00" fill="#fff" stroke="#000" stroke-width="0.55" stroke-linejoin="round"/><polygon points="359.50,511.50 359.50,508.50 360.80,506.30 363.20,505.50 365.70,506.10 367.00,508.30 367.10,511.50 366.00,513.70 363.30,514.40 360.60,513.80" fill="#000" stroke="#000" stroke-width="0.4" stroke-linejoin="round"/>
</svg></body></html>
